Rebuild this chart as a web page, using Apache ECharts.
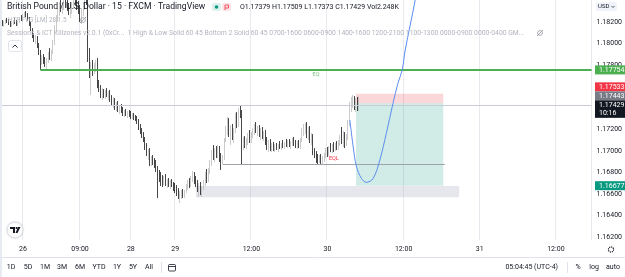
<!DOCTYPE html>
<html><head><meta charset="utf-8">
<script src="https://cdn.jsdelivr.net/npm/echarts@6/dist/echarts.min.js"></script>
<style>html,body{margin:0;padding:0;background:#fff;}#c{width:625px;height:277px;}</style>
</head><body><div id="c"></div>
<script>
// ---------- DATA ----------
const SLOT_COUNT = 373; // 15-minute slots across the plot (Thu 25 20:30 ... Sep 1), incl. empty future slots
const timeTickIdx = [14, 50, 82, 110, 158, 206, 254, 302, 350];
const timeTickLabels = ['26', '09:00', '28', '29', '12:00', '30', '12:00', '31', '12:00'];
const priceTicks = [1.162, 1.164, 1.166, 1.168, 1.170, 1.172, 1.174, 1.176, 1.178, 1.180, 1.182];
const yMin = 1.16172, yMax = 1.18404;
// GBPUSD 15m candles: [open, close, low, high]
const candles = [
[1.18199,1.18190,1.18171,1.18227],[1.18190,1.18181,1.18162,1.18218],[1.18181,1.18199,1.18153,1.18209],[1.18199,1.18218,1.18181,1.18227],
[1.18218,1.18209,1.18190,1.18237],[1.18209,1.18181,1.18171,1.18227],[1.18181,1.18171,1.18153,1.18209],[1.18171,1.18190,1.18153,1.18199],
[1.18190,1.18209,1.18171,1.18218],[1.18209,1.18199,1.18181,1.18237],[1.18199,1.18181,1.18162,1.18218],[1.18181,1.18199,1.18162,1.18209],
[1.18199,1.18237,1.18190,1.18246],[1.18237,1.18227,1.18209,1.18264],[1.18227,1.18255,1.18218,1.18274],[1.18255,1.18274,1.18237,1.18292],
[1.18274,1.18255,1.18246,1.18302],[1.18255,1.18218,1.18209,1.18283],[1.18218,1.18171,1.18162,1.18246],[1.18171,1.18125,1.18116,1.18199],
[1.18125,1.18069,1.18050,1.18143],[1.18069,1.18032,1.18013,1.18097],[1.18032,1.18050,1.17995,1.18078],[1.18050,1.17976,1.17957,1.18069],
[1.17976,1.17911,1.17892,1.18004],[1.17911,1.17827,1.17754,1.17939],[1.17827,1.17864,1.17799,1.17892],[1.17864,1.17837,1.17809,1.17902],
[1.17837,1.17818,1.17781,1.17874],[1.17818,1.17846,1.17754,1.17864],[1.17846,1.17892,1.17818,1.17920],[1.17892,1.17864,1.17846,1.17957],
[1.17864,1.17920,1.17837,1.17939],[1.17920,1.18013,1.17902,1.18032],[1.18013,1.18143,1.17985,1.18171],[1.18143,1.18237,1.18106,1.18264],
[1.18237,1.18292,1.18199,1.18330],[1.18292,1.18348,1.18255,1.18385],[1.18348,1.18320,1.18292,1.18423],[1.18320,1.18357,1.18274,1.18376],
[1.18357,1.18385,1.18311,1.18441],[1.18385,1.18367,1.18330,1.18460],[1.18367,1.18330,1.18302,1.18413],[1.18330,1.18292,1.18264,1.18376],
[1.18292,1.18311,1.18237,1.18348],[1.18311,1.18357,1.18274,1.18385],[1.18357,1.18404,1.18320,1.18432],[1.18404,1.18376,1.18357,1.18478],
[1.18376,1.18339,1.18311,1.18441],[1.18339,1.18302,1.18274,1.18395],[1.18302,1.18237,1.18199,1.18357],[1.18237,1.18292,1.18181,1.18330],
[1.18292,1.18348,1.18255,1.18385],[1.18348,1.18450,1.18311,1.18497],[1.18450,1.18385,1.18357,1.18916],[1.18385,1.17892,1.17827,1.18478],
[1.17892,1.17734,1.17678,1.17957],[1.17734,1.17790,1.17520,1.17827],[1.17790,1.17753,1.17697,1.17846],[1.17753,1.17799,1.17716,1.17818],
[1.17799,1.17827,1.17734,1.17846],[1.17827,1.17604,1.17585,1.17864],[1.17604,1.17585,1.17548,1.17660],[1.17585,1.17520,1.17492,1.17613],
[1.17520,1.17548,1.17474,1.17585],[1.17548,1.17530,1.17492,1.17576],[1.17530,1.17557,1.17483,1.17567],[1.17557,1.17520,1.17502,1.17585],
[1.17520,1.17539,1.17474,1.17557],[1.17539,1.17483,1.17455,1.17567],[1.17483,1.17446,1.17418,1.17520],[1.17446,1.17474,1.17399,1.17502],
[1.17474,1.17409,1.17381,1.17492],[1.17409,1.17437,1.17372,1.17455],[1.17437,1.17381,1.17362,1.17465],[1.17381,1.17399,1.17344,1.17427],
[1.17399,1.17372,1.17353,1.17437],[1.17372,1.17353,1.17325,1.17409],[1.17353,1.17362,1.17316,1.17381],[1.17362,1.17334,1.17325,1.17390],
[1.17334,1.17353,1.17306,1.17372],[1.17353,1.17344,1.17316,1.17381],
[1.17344,1.17325,1.17297,1.17372],[1.17325,1.17334,1.17297,1.17353],[1.17334,1.17306,1.17288,1.17353],[1.17306,1.17297,1.17279,1.17334],
[1.17297,1.17269,1.17251,1.17325],[1.17269,1.17213,1.17195,1.17297],[1.17213,1.17176,1.17157,1.17251],[1.17176,1.17139,1.17120,1.17213],
[1.17139,1.17102,1.17083,1.17176],[1.17102,1.17027,1.17009,1.17130],[1.17027,1.16981,1.16953,1.17074],[1.16981,1.16999,1.16916,1.17018],
[1.16999,1.16888,1.16860,1.17027],[1.16888,1.16934,1.16860,1.16953],[1.16934,1.16897,1.16869,1.16962],[1.16897,1.16869,1.16841,1.16934],
[1.16869,1.16823,1.16804,1.16916],[1.16823,1.16776,1.16562,1.16860],[1.16776,1.16748,1.16711,1.16823],[1.16748,1.16730,1.16674,1.16804],
[1.16730,1.16702,1.16665,1.16776],[1.16702,1.16748,1.16683,1.16767],[1.16748,1.16692,1.16674,1.16786],[1.16692,1.16711,1.16655,1.16739],
[1.16711,1.16683,1.16665,1.16748],[1.16683,1.16702,1.16646,1.16730],[1.16702,1.16674,1.16665,1.16739],[1.16674,1.16655,1.16627,1.16711],
[1.16655,1.16637,1.16609,1.16702],[1.16637,1.16609,1.16581,1.16683],[1.16609,1.16572,1.16553,1.16655],[1.16572,1.16590,1.16516,1.16627],
[1.16590,1.16618,1.16553,1.16637],[1.16618,1.16581,1.16562,1.16646],[1.16581,1.16627,1.16562,1.16637],[1.16627,1.16674,1.16609,1.16692],
[1.16674,1.16702,1.16637,1.16730],[1.16702,1.16683,1.16655,1.16748],[1.16683,1.16739,1.16665,1.16767],[1.16739,1.16776,1.16711,1.16813],
[1.16776,1.16711,1.16692,1.16804],[1.16711,1.16692,1.16665,1.16767],[1.16692,1.16637,1.16618,1.16730],[1.16637,1.16674,1.16572,1.16702],
[1.16674,1.16609,1.16590,1.16711],[1.16609,1.16655,1.16572,1.16674],[1.16655,1.16711,1.16637,1.16730],[1.16711,1.16776,1.16674,1.16804],
[1.16776,1.16730,1.16702,1.16832],[1.16730,1.16823,1.16711,1.16841],[1.16823,1.16888,1.16786,1.16916],[1.16888,1.16990,1.16860,1.17009],
[1.16990,1.16944,1.16916,1.17055],[1.16944,1.17009,1.16897,1.17027],[1.17009,1.16962,1.16934,1.17046],[1.16962,1.17027,1.16934,1.17055],
[1.17027,1.16916,1.16897,1.17046],[1.16916,1.16897,1.16823,1.16981],[1.16897,1.16944,1.16879,1.16962],[1.16944,1.17102,1.16916,1.17120],
[1.17102,1.17213,1.17083,1.17232],[1.17213,1.17269,1.17148,1.17316],[1.17269,1.17167,1.17130,1.17306],[1.17167,1.17213,1.17055,1.17241],
[1.17213,1.17130,1.17102,1.17251],[1.17130,1.17195,1.17074,1.17213],[1.17195,1.17325,1.17167,1.17353],[1.17325,1.17241,1.17213,1.17362],
[1.17241,1.17381,1.17223,1.17399],[1.17381,1.17344,1.17306,1.17427],[1.17344,1.17055,1.16869,1.17381],[1.17055,1.17092,1.17009,1.17130],
[1.17092,1.17046,1.17027,1.17139],[1.17046,1.17102,1.17018,1.17120],[1.17102,1.17139,1.17055,1.17167],[1.17139,1.17092,1.17074,1.17195],
[1.17092,1.17157,1.17074,1.17176],[1.17157,1.17195,1.17120,1.17213],[1.17195,1.17223,1.17148,1.17251],[1.17223,1.17185,1.17167,1.17269],
[1.17185,1.17213,1.17139,1.17232],[1.17213,1.17148,1.17130,1.17241],[1.17148,1.17176,1.17102,1.17213],[1.17176,1.17130,1.17111,1.17223],
[1.17130,1.17167,1.17092,1.17185],[1.17167,1.17074,1.17055,1.17195],[1.17074,1.17027,1.17009,1.17130],[1.17027,1.17083,1.16990,1.17102],
[1.17083,1.17018,1.16999,1.17111],[1.17018,1.17055,1.16990,1.17074],[1.17055,1.17027,1.16999,1.17083],[1.17027,1.17046,1.16990,1.17064],
[1.17046,1.17018,1.17009,1.17074],[1.17018,1.17055,1.16990,1.17064],[1.17055,1.17037,1.17018,1.17092],[1.17037,1.17064,1.17009,1.17074],
[1.17064,1.17046,1.17027,1.17102],[1.17046,1.17074,1.17018,1.17083],[1.17074,1.17055,1.17037,1.17111],[1.17055,1.17083,1.17027,1.17102],
[1.17083,1.17046,1.17037,1.17111],[1.17046,1.17074,1.17018,1.17092],[1.17074,1.17102,1.17046,1.17120],[1.17102,1.17064,1.17046,1.17130],
[1.17064,1.17046,1.17027,1.17102],[1.17046,1.17074,1.17018,1.17092],[1.17074,1.17037,1.17027,1.17102],[1.17037,1.17102,1.17018,1.17120],
[1.17102,1.17185,1.17083,1.17213],[1.17185,1.17204,1.17139,1.17251],[1.17204,1.17232,1.17157,1.17260],[1.17232,1.17157,1.17120,1.17269],
[1.17157,1.17195,1.17102,1.17223],[1.17195,1.17092,1.17074,1.17232],[1.17092,1.17139,1.17055,1.17167],[1.17139,1.16990,1.16962,1.17157],
[1.16990,1.16962,1.16934,1.17027],[1.16962,1.16934,1.16888,1.16999],[1.16934,1.16916,1.16879,1.16972],[1.16916,1.16944,1.16888,1.16962],
[1.16944,1.16897,1.16879,1.16972],[1.16897,1.16934,1.16879,1.16953],[1.16934,1.16962,1.16897,1.16981],[1.16962,1.17009,1.16934,1.17027],
[1.17009,1.16981,1.16944,1.17037],[1.16981,1.17027,1.16953,1.17046],[1.17027,1.17009,1.16990,1.17074],[1.17009,1.17046,1.16981,1.17064],
[1.17046,1.17018,1.16990,1.17083],[1.17018,1.17055,1.16999,1.17074],[1.17055,1.17037,1.17009,1.17092],[1.17037,1.17083,1.17009,1.17102],
[1.17083,1.17120,1.17046,1.17148],[1.17120,1.17102,1.17064,1.17223],[1.17102,1.17148,1.17037,1.17185],[1.17148,1.17083,1.17027,1.17176],
[1.17083,1.17130,1.17046,1.17157],[1.17130,1.17251,1.17102,1.17288],[1.17251,1.17418,1.17232,1.17455],[1.17418,1.17465,1.17362,1.17502],
[1.17465,1.17483,1.17399,1.17520],[1.17483,1.17409,1.17381,1.17511],[1.17409,1.17474,1.17362,1.17492],[1.17474,1.17381,1.17372,1.17502],
[1.17379,1.17429,1.17373,1.17509]
];
const lastClose = 1.17429;
const eqLevel = 1.17754, eqStartIdx = 25;
const eqlLevel = 1.16879, eqlIdx = [140, 280];
const stopLevel = 1.17533, entryLevel = 1.17443, targetLevel = 1.16677, positionIdx = [224, 279];
const zoneIdx = [123, 289], zonePrices = [1.16569, 1.16674];
const curveIdx = [220.1, 222.2, 224.3, 227.4, 230.5, 234.8, 239.0, 243.1, 247.3, 250.4, 253.1, 255.0, 261.3, 264.2];
const curvePrice = [1.17288, 1.17039, 1.16853, 1.16745, 1.16708, 1.16745, 1.16916, 1.17164, 1.17443, 1.17629, 1.17753, 1.17939, 1.18404, 1.18683];
const countdown = '10:16';

// ---------- CHART ----------
const FONT = 'Roboto, "Noto Sans", sans-serif';
const chart = echarts.init(document.getElementById('c'), null, {renderer: 'canvas'});
const cats = Array.from({length: SLOT_COUNT}, (_, i) => String(i));
const tickSet = new Set(timeTickIdx);
const TXT = '#131722';

const option = {
  animation: false,
  grid: {left: 0, top: 0, width: 594.6, height: 240},
  xAxis: [{
    type: 'category', data: cats, boundaryGap: true,
    axisLine: {show: false}, axisTick: {show: false},
    axisLabel: {interval: (i) => tickSet.has(i), formatter: (v, i) => timeTickLabels[timeTickIdx.indexOf(i)],
      fontSize: 7, color: TXT, margin: 6, fontFamily: FONT},
    splitLine: {show: true, interval: (i) => tickSet.has(i), lineStyle: {color: '#e8eaef', width: 1}}
  }, {
    type: 'value', min: -0.5, max: SLOT_COUNT - 0.5, show: false, gridIndex: 0
  }],
  yAxis: {
    type: 'value', position: 'right', min: yMin, max: yMax,
    axisLine: {show: false}, axisTick: {show: false}, splitLine: {show: false},
    axisLabel: {customValues: priceTicks, formatter: (v) => v.toFixed(5), fontSize: 7, color: TXT, margin: 5, fontFamily: FONT}
  },
  series: [
    { // zones, position boxes, price line
      type: 'line', xAxisIndex: 1, yAxisIndex: 0, data: [], z: 1, silent: true,
      markArea: {silent: true, data: [
        [{coord: [zoneIdx[0], zonePrices[1]], itemStyle: {color: 'rgba(178,181,200,0.32)'}}, {coord: [zoneIdx[1], zonePrices[0]]}],
        [{coord: [positionIdx[0], stopLevel], itemStyle: {color: 'rgba(242,54,69,0.2)'}}, {coord: [positionIdx[1], entryLevel]}],
        [{coord: [positionIdx[0], entryLevel], itemStyle: {color: 'rgba(8,153,129,0.19)'}}, {coord: [positionIdx[1], targetLevel]}]
      ]},
      markLine: {silent: true, symbol: ['none', 'none'], label: {show: false},
        lineStyle: {color: '#c9ccd4', type: 'solid', width: 1},
        data: [[{coord: [-0.5, lastClose]}, {coord: [SLOT_COUNT - 0.5, lastClose]}]]}
    },
    {
      type: 'candlestick', xAxisIndex: 0, yAxisIndex: 0, data: candles, z: 3, barWidth: 0.8, clip: true,
      itemStyle: {color: '#b8b8b8', color0: '#0a0a0a', borderColor: '#b8b8b8', borderColor0: '#0a0a0a', borderWidth: 0.75}
    },
    {
      type: 'line', xAxisIndex: 1, yAxisIndex: 0, data: [], z: 4, silent: true,
      markLine: {silent: true, symbol: ['none', 'none'], data: [
        [{coord: [eqStartIdx, eqLevel], lineStyle: {color: '#4caf50', width: 2, type: 'solid'},
          label: {show: true, position: 'insideMiddleBottom', formatter: 'EQ', color: '#7cc47f', fontSize: 5.5, fontFamily: FONT, distance: 2}},
         {coord: [SLOT_COUNT - 0.5, eqLevel]}],
        [{coord: [eqlIdx[0], eqlLevel], lineStyle: {color: '#9ea1a8', width: 1, type: 'solid'},
          label: {show: true, position: 'insideMiddleTop', formatter: 'EQL', color: '#f23645', fontSize: 5.5, fontFamily: FONT, distance: 2}},
         {coord: [eqlIdx[1], eqlLevel]}]
      ]}
    },
    {
      type: 'line', xAxisIndex: 1, yAxisIndex: 0, z: 5, silent: true, smooth: 0.35, showSymbol: false, clip: true,
      data: curveIdx.map((x, k) => [x, curvePrice[k]]),
      lineStyle: {color: '#5b8cf0', width: 1}
    }
  ]
};
chart.setOption(option);

// ---------- OVERLAY (text, price labels, toolbar) ----------
const py = (p) => chart.convertToPixel({yAxisIndex: 0}, p);
const g = [];
function txt(x, y, text, size, color, extra) {
  g.push(Object.assign({type: 'text', z: 100, silent: true,
    style: Object.assign({x, y, text, fill: color, fontSize: size, fontFamily: FONT, verticalAlign: 'middle', align: 'left'}, extra || {})}));
}
function plabel(cy, text, bg) {
  g.push({type: 'rect', z: 99, silent: true, shape: {x: 595, y: cy - 4.5, width: 30, height: 9}, style: {fill: bg}});
  txt(599, cy + 0.3, text, 7, '#ffffff');
}
// left border strip
g.push({type: 'rect', z: 98, silent: true, shape: {x: 0, y: 0, width: 2, height: 277}, style: {fill: '#e9ebf2'}});
// header
txt(7, 7, 'British Pound / U.S. Dollar · 15 · FXCM · TradingView', 8.6, TXT);
g.push({type: 'rect', z: 100, silent: true, shape: {x: 212, y: 3, width: 9, height: 8, r: 2}, style: {fill: '#dcf1ec'}});
g.push({type: 'circle', z: 101, silent: true, shape: {cx: 216.5, cy: 7, r: 1.8}, style: {fill: '#089981'}});
g.push({type: 'rect', z: 100, silent: true, shape: {x: 222, y: 3, width: 9, height: 8, r: 2}, style: {fill: '#fde3e6'}});
g.push({type: 'polyline', z: 101, silent: true, shape: {points: [[225, 10], [225, 5], [228.5, 5], [228.5, 8], [225, 8]]}, style: {stroke: '#f23645', fill: 'none', lineWidth: 0.8}});
txt(240, 7, 'O1.17379 H1.17509 L1.17373 C1.17429 Vol2.248K', 7, TXT);
txt(8, 20, 'HTF FVG [LM] 28 1.5', 6.4, '#b2b5be');
function eye(cx, cy) {
  g.push({type: 'circle', z: 100, silent: true, shape: {cx, cy, r: 2.4}, style: {stroke: '#9598a1', fill: 'none', lineWidth: 0.8}});
  g.push({type: 'line', z: 100, silent: true, shape: {x1: cx - 3, y1: cy + 3, x2: cx + 3, y2: cy - 3}, style: {stroke: '#9598a1', lineWidth: 0.8}});
}
eye(83, 20);
txt(7, 33, 'Sessions & ICT Killzones v2.0.1 (0xCr...  1 High & Low Solid 60 45 Bottom 2 Solid 60 45 0700-1600 0600-0900 1400-1600 1200-2100 1100-1300 0000-0900 0000-0400 GM...', 6.8, '#b2b5be');
eye(540, 33);
g.push({type: 'rect', z: 100, silent: true, shape: {x: 8.5, y: 40.5, width: 13, height: 11, r: 2}, style: {fill: '#ffffff', stroke: '#e0e3eb', lineWidth: 1}});
g.push({type: 'polyline', z: 101, silent: true, shape: {points: [[12.5, 47.5], [15, 45], [17.5, 47.5]]}, style: {stroke: TXT, fill: 'none', lineWidth: 0.9}});
// USD box
g.push({type: 'rect', z: 100, silent: true, shape: {x: 596, y: 2, width: 21, height: 9, r: 2}, style: {fill: '#f0f3fa'}});
txt(598, 6.7, 'USD', 6, TXT);
g.push({type: 'polyline', z: 101, silent: true, shape: {points: [[611.5, 6], [613, 7.5], [614.5, 6]]}, style: {stroke: TXT, fill: 'none', lineWidth: 0.7}});
// price labels
const blackTop = py(lastClose) - 4.5;
const grayCy = blackTop - 4.5;
const redCy = grayCy - 9;
plabel(py(eqLevel), eqLevel.toFixed(5), '#4caf50');
plabel(redCy, stopLevel.toFixed(5), '#f23645');
plabel(grayCy, entryLevel.toFixed(5), '#787b86');
g.push({type: 'rect', z: 99, silent: true, shape: {x: 595, y: blackTop, width: 30, height: 17.5}, style: {fill: '#131722'}});
txt(599, blackTop + 4.6, lastClose.toFixed(5), 7, '#ffffff');
txt(599, blackTop + 12.6, countdown, 7, '#ffffff');
plabel(py(targetLevel), targetLevel.toFixed(5), '#089981');
// gear
g.push({type: 'circle', z: 100, silent: true, shape: {cx: 611, cy: 249.5, r: 2.6}, style: {stroke: TXT, fill: 'none', lineWidth: 1.1, lineDash: [1.2, 0.8]}});
// TV logo
g.push({type: 'circle', z: 100, silent: true, shape: {cx: 15, cy: 230, r: 8}, style: {fill: '#ffffff', stroke: '#e0e3eb', lineWidth: 1, shadowBlur: 2, shadowColor: 'rgba(0,0,0,0.15)'}});
g.push({type: 'polygon', z: 101, silent: true, shape: {points: [[10, 227], [15, 227], [15, 233], [13, 233], [13, 229], [10, 229]]}, style: {fill: TXT}});
g.push({type: 'circle', z: 101, silent: true, shape: {cx: 16.6, cy: 228, r: 1.1}, style: {fill: TXT}});
g.push({type: 'polygon', z: 101, silent: true, shape: {points: [[18, 227], [20.5, 227], [17.5, 233], [15.5, 233]]}, style: {fill: TXT}});
// bottom toolbar
g.push({type: 'line', z: 100, silent: true, shape: {x1: 0, y1: 257.5, x2: 625, y2: 257.5}, style: {stroke: '#e0e3eb', lineWidth: 1}});
const tb = [['1D', 11], ['5D', 28], ['1M', 45], ['3M', 62], ['6M', 80], ['YTD', 99], ['1Y', 117], ['5Y', 133], ['All', 149]];
tb.forEach(([t, x]) => txt(x, 267.5, t, 7, TXT, {align: 'center'}));
g.push({type: 'line', z: 100, silent: true, shape: {x1: 161.5, y1: 262, x2: 161.5, y2: 273}, style: {stroke: '#e0e3eb', lineWidth: 1}});
g.push({type: 'rect', z: 100, silent: true, shape: {x: 168.5, y: 264.5, width: 7, height: 6.5, r: 1}, style: {stroke: TXT, fill: 'none', lineWidth: 0.8}});
g.push({type: 'line', z: 100, silent: true, shape: {x1: 168.5, y1: 266.5, x2: 175.5, y2: 266.5}, style: {stroke: TXT, lineWidth: 0.8}});
txt(558, 267.5, '05:04:45 (UTC-4)', 7, TXT, {align: 'right'});
g.push({type: 'line', z: 100, silent: true, shape: {x1: 567.5, y1: 262, x2: 567.5, y2: 273}, style: {stroke: '#e0e3eb', lineWidth: 1}});
txt(578, 267.5, '%', 7, TXT, {align: 'center'});
txt(594, 267.5, 'log', 7, TXT, {align: 'center'});
txt(613, 267.5, 'auto', 7, TXT, {align: 'center'});
chart.setOption({graphic: g});
</script>
</body></html>
